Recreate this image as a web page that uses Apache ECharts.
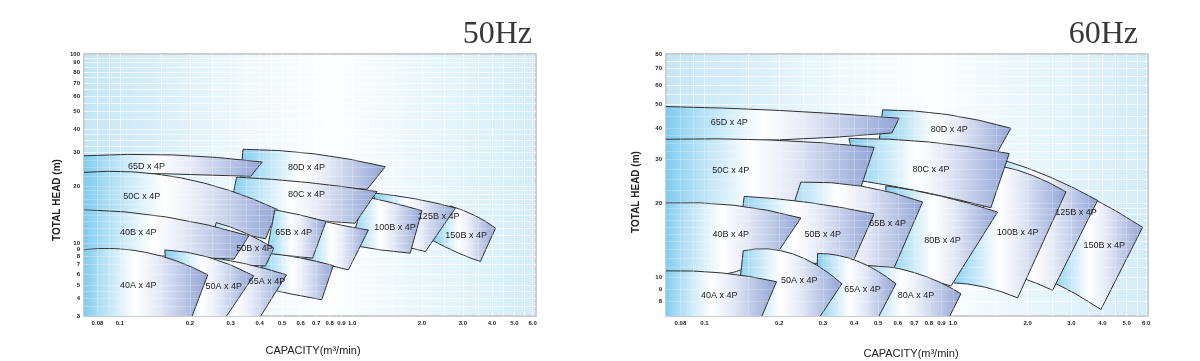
<!DOCTYPE html>
<html><head><meta charset="utf-8">
<script src="https://cdn.jsdelivr.net/npm/echarts@6/dist/echarts.min.js"></script>
<style>html,body{margin:0;padding:0;background:#fff}#c{width:1200px;height:361px}</style>
</head><body><div id="c"></div>
<script>
// ---- data (capacity m3/min, total head m) ----
const MODELS = ['150B x 4P','125B x 4P','100B x 4P','80D x 4P','80C x 4P','80B x 4P','80A x 4P','65D x 4P','50C x 4P','65B x 4P','50B x 4P','65A x 4P','40B x 4P','50A x 4P','40A x 4P'];

// 50Hz: upper curve [left, middle, right], lower curve [left, middle, right], label point
const TOP_50 = [
  [[2.65,15.7],[3.4,13.9],[4.15,11.96]],
  [[1.22,18.4],[1.87,17.1],[2.79,15.3]],
  [[1.14,17.5],[1.49,16.3],[2.0,14.8]],
  [[0.339,31.3],[0.687,29.6],[1.39,25.3]],
  [[0.318,22.3],[0.648,20.85],[1.28,18.7]],
  [[0.692,13.4],[0.887,12.45],[1.176,11.7]],
  [[0.409,8.63],[0.596,7.81],[0.83,6.88]],
  [[0.069,28.9],[0.1685,29.2],[0.41,26.8]],
  [[0.069,23.6],[0.1825,22.1],[0.478,15.0]],
  [[0.465,14.95],[0.596,14.06],[0.772,12.96]],
  [[0.26,12.8],[0.345,11.3],[0.46,9.17]],
  [[0.22,8.07],[0.34,7.14],[0.522,5.91]],
  [[0.069,15.0],[0.159,13.7],[0.359,10.9]],
  [[0.156,8.91],[0.242,7.88],[0.377,5.81]],
  [[0.069,8.91],[0.129,8.56],[0.239,5.91]]
];
const BOTTOM_50 = [
  [[2.22,10.3],[2.88,8.44],[3.57,7.36]],
  [[1.53,9.84],[1.78,9.2],[2.07,8.67]],
  [[0.98,9.68],[1.32,8.91],[1.78,8.44]],
  [[0.33,21.5],[0.617,20.3],[1.16,19.2]],
  [[0.297,14.6],[0.553,13.4],[1.03,12.7]],
  [[0.626,7.69],[0.788,6.96],[0.964,6.41]],
  [[0.409,4.77],[0.551,4.3],[0.74,3.92]],
  [[0.069,23.6],[0.16,23.2],[0.366,22.5]],
  [[0.069,14.4],[0.172,12.9],[0.424,10.5]],
  [[0.428,8.44],[0.54,8.07],[0.676,7.78]],
  [[0.232,7.32],[0.328,6.96],[0.424,6.85]],
  [[0.232,2.9],[0.31,2.9],[0.399,2.9]],
  [[0.069,8.48],[0.147,8.07],[0.31,7.65]],
  [[0.164,2.9],[0.22,2.9],[0.284,2.9]],
  [[0.069,2.9],[0.12,2.9],[0.203,2.9]]
];
const LABEL_AT_50 = [[3.1,10.9],[2.36,13.8],[1.53,12.1],[0.637,25.2],[0.637,17.95],null,null,[0.13,25.3],[0.124,17.6],[0.56,11.4],[0.38,9.17],[0.43,5.29],[0.12,11.3],[0.28,4.88],[0.12,4.93]];

// 60Hz
const TOP_60 = [
  [[3.594,21.1],[4.569,18.5],[5.803,15.97]],
  [[1.604,29.8],[2.48,25.4],[3.824,20.5]],
  [[1.56,28.2],[2.109,25.8],[2.851,22.2]],
  [[0.521,47.6],[0.945,45.6],[1.712,40.1]],
  [[0.3815,36.5],[0.8004,35.3],[1.685,31.7]],
  [[0.5373,23.5],[0.902,21.3],[1.513,18.4]],
  [[0.4196,11.44],[0.6985,10.48],[1.077,8.61]],
  [[0.069,49.1],[0.203,47.3],[0.608,44.05]],
  [[0.069,36.2],[0.185,35.95],[0.482,33.6]],
  [[0.2443,24.3],[0.4298,23.4],[0.755,20.2]],
  [[0.1445,21.3],[0.264,20.1],[0.482,18.1]],
  [[0.2853,12.52],[0.4103,11.69],[0.5896,9.45]],
  [[0.069,20.0],[0.1317,19.6],[0.2443,17.4]],
  [[0.1432,12.84],[0.2263,12.48],[0.3573,9.45]],
  [[0.069,10.65],[0.1172,10.45],[0.195,9.63]]
];
const BOTTOM_60 = [
  [[2.48,9.69],[3.128,8.59],[3.943,7.44]],
  [[1.358,10.85],[1.844,10.07],[2.52,8.89]],
  [[0.982,9.54],[1.338,9.17],[1.822,8.29]],
  [[0.504,35.0],[0.87,33.7],[1.513,32.2]],
  [[0.4183,24.7],[0.7715,22.1],[1.422,19.15]],
  [[0.5373,10.65],[0.7263,10.07],[0.982,9.25]],
  [[0.4263,6.9],[0.65,6.9],[0.965,6.9]],
  [[0.069,35.8],[0.2,36.0],[0.568,38.4]],
  [[0.069,19.03],[0.1733,19.57],[0.4263,23.2]],
  [[0.1938,11.91],[0.3349,11.47],[0.5804,10.98]],
  [[0.1338,11.47],[0.229,11.47],[0.392,11.34]],
  [[0.281,6.9],[0.38,6.9],[0.5,6.9]],
  [[0.069,10.35],[0.1177,10.25],[0.197,12.64]],
  [[0.1338,6.9],[0.2,6.9],[0.29,6.9]],
  [[0.069,6.9],[0.12,6.9],[0.1693,6.9]]
];
const LABEL_AT_60 = [[4.066,13.45],[3.128,18.4],[1.822,15.2],[0.966,39.7],[0.8155,27.3],[0.909,14.1],[0.7097,8.43],[0.1257,42.3],[0.1277,27.2],[0.546,16.5],[0.299,14.9],[0.4329,8.97],[0.1277,14.9],[0.2405,9.76],[0.1146,8.5]];

const X_TICKS = [0.08,0.1,0.2,0.3,0.4,0.5,0.6,0.7,0.8,0.9,1,2,3,4,5,6];
const X_TICK_LABELS = ['0.08','0.1','0.2','0.3','0.4','0.5','0.6','0.7','0.8','0.9','1.0','2.0','3.0','4.0','5.0','6.0'];
const Y_TICKS_50 = [3,4,5,6,7,8,9,10,20,30,40,50,60,70,80,90,100];
const Y_TICKS_60 = [8,9,10,20,30,40,50,60,70,80];
const GRID_X = [0.08,0.09,0.1,0.15,0.2,0.25,0.3,0.35,0.4,0.45,0.5,0.6,0.7,0.8,0.9,1,1.5,2,2.5,3,3.5,4,4.5,5,5.5,6];
const GRID_Y_50 = [3.5,4,4.5,5,6,7,8,9,10,11,12,13,14,15,16,17,18,19,20,22.5,25,27.5,30,32.5,35,37.5,40,45,50,55,60,65,70,75,80,85,90,95];
const GRID_Y_60 = [8,9,10,11,12,13,14,15,16,17,18,19,20,22.5,25,27.5,30,32.5,35,37.5,40,45,50,55,60,65,70,75];

// ---- scales: log capacity; 50Hz head axis is log with a compressed decade below 10 m ----
const fx = q => Math.log10(q);
const fy50 = h => { const l = Math.log10(h) - 1; return l >= 0 ? l * 189 / 140 : l; };
const fy60 = h => Math.log10(h);

function fmt(ticks, labels, f) {
  return v => { let best = -1, bd = Infinity;
    ticks.forEach((t, k) => { const d = Math.abs(f(t) - v); if (d < bd) { bd = d; best = k; } });
    return bd < 1e-6 ? labels[best] : ''; };
}
const lblStyle = {fontSize: 6, fontWeight: 'bold', fontFamily: '"Liberation Sans", Arial, sans-serif', color: '#222'};
const cardFill = () => ({type: 'linear', x: 0, y: 0, x2: 1, y2: 0, colorStops: [
  {offset: 0, color: '#7ccaee'}, {offset: 0.12, color: '#a8dcf4'}, {offset: 0.42, color: '#ffffff'},
  {offset: 0.6, color: '#e5eaf6'}, {offset: 1, color: '#91a4d5'}]});
const bgFill = {type: 'linear', x: 0, y: 0, x2: 1, y2: 0, colorStops: [
  {offset: 0, color: '#c5e6f7'}, {offset: 0.35, color: '#eef8fd'}, {offset: 0.55, color: '#fcfeff'}, {offset: 1, color: '#d2edf9'}]};

function cards(xi, fy, TOP, BOTTOM) {
  return {
    type: 'custom', xAxisIndex: xi, yAxisIndex: xi, clip: true, z: 2, silent: true,
    data: MODELS.map((m, i) => ({name: m, value: [fx(TOP[i][1][0]), fy(TOP[i][1][1])]})),
    renderItem: (params, api) => {
      const i = params.dataIndex;
      const P = p => api.coord([fx(p[0]), fy(p[1])]);
      const t = TOP[i].map(P), b = BOTTOM[i].map(P);
      const ctl = (a, m, z) => [2 * m[0] - (a[0] + z[0]) / 2, 2 * m[1] - (a[1] + z[1]) / 2];
      const ct = ctl(t[0], t[1], t[2]), cb = ctl(b[0], b[1], b[2]);
      const d = 'M' + t[0][0] + ',' + t[0][1] + ' Q' + ct[0] + ',' + ct[1] + ' ' + t[2][0] + ',' + t[2][1] +
        ' L' + b[2][0] + ',' + b[2][1] + ' Q' + cb[0] + ',' + cb[1] + ' ' + b[0][0] + ',' + b[0][1] + ' Z';
      return {type: 'path', shape: {pathData: d}, style: {fill: cardFill(), stroke: '#303030', lineWidth: 1}};
    }
  };
}
function labels(xi, fy, LABELS) {
  return {
    type: 'custom', xAxisIndex: xi, yAxisIndex: xi, clip: true, z: 8, silent: true,
    data: MODELS.map((m, i) => ({name: m, value: LABELS[i] ? [fx(LABELS[i][0]), fy(LABELS[i][1])] : [NaN, NaN]})),
    renderItem: (params, api) => {
      const i = params.dataIndex;
      if (!LABELS[i]) return null;
      const p = api.coord([fx(LABELS[i][0]), fy(LABELS[i][1])]);
      return {type: 'text', x: p[0], y: p[1], style: {text: MODELS[i], fill: '#1c1c1c',
        font: '9px "Liberation Sans", Arial, sans-serif', align: 'center', verticalAlign: 'middle'}};
    }
  };
}

function mainX(gi, max) {
  return {gridIndex: gi, type: 'value', min: fx(0.07), max: fx(max), axisLine: {show: false}, axisTick: {show: false},
    splitLine: {show: false},
    axisLabel: Object.assign({customValues: X_TICKS.map(fx), formatter: fmt(X_TICKS, X_TICK_LABELS, fx), margin: 4}, lblStyle)};
}
function mainY(gi, f, ticks, min, max) {
  return {gridIndex: gi, type: 'value', min: f(min), max: f(max), axisLine: {show: false}, axisTick: {show: false},
    splitLine: {show: false},
    axisLabel: Object.assign({customValues: ticks.map(f), formatter: fmt(ticks, ticks.map(String), f), margin: 4}, lblStyle)};
}
function gridX(gi, max, z, alpha) {
  return {gridIndex: gi, type: 'value', position: 'top', z: z, min: fx(0.07), max: fx(max), axisLine: {show: false},
    axisTick: {show: false, customValues: GRID_X.map(fx)}, axisLabel: {show: false, customValues: GRID_X.map(fx)},
    splitLine: {show: true, lineStyle: {color: 'rgba(255,255,255,' + alpha + ')', width: 1}}};
}
function gridY(gi, f, vals, min, max, z, alpha) {
  return {gridIndex: gi, type: 'value', position: 'right', z: z, min: f(min), max: f(max), axisLine: {show: false},
    axisTick: {show: false, customValues: vals.map(f)}, axisLabel: {show: false, customValues: vals.map(f)},
    splitLine: {show: true, lineStyle: {color: 'rgba(255,255,255,' + alpha + ')', width: 1}}};
}

const chart = echarts.init(document.getElementById('c'), null, {renderer: 'canvas'});
chart.setOption({
  animation: false,
  grid: [
    {left: 84, top: 54, width: 452, height: 262, show: true, backgroundColor: bgFill, borderColor: '#cdcdcd', borderWidth: 2},
    {left: 666, top: 54, width: 482, height: 262, show: true, backgroundColor: bgFill, borderColor: '#cdcdcd', borderWidth: 2}
  ],
  xAxis: [mainX(0, 6.2), mainX(1, 6.1), gridX(0, 6.2, 1, 0.6), gridX(1, 6.1, 1, 0.6), gridX(0, 6.2, 5, 0.22), gridX(1, 6.1, 5, 0.22)],
  yAxis: [mainY(0, fy50, Y_TICKS_50, 3, 100), mainY(1, fy60, Y_TICKS_60, 7, 80),
          gridY(0, fy50, GRID_Y_50, 3, 100, 1, 0.6), gridY(1, fy60, GRID_Y_60, 7, 80, 1, 0.6),
          gridY(0, fy50, GRID_Y_50, 3, 100, 5, 0.22), gridY(1, fy60, GRID_Y_60, 7, 80, 5, 0.22)],
  series: [cards(0, fy50, TOP_50, BOTTOM_50), cards(1, fy60, TOP_60, BOTTOM_60),
           labels(0, fy50, LABEL_AT_50), labels(1, fy60, LABEL_AT_60)],
  graphic: [
    {type: 'text', x: 532, y: 35, style: {text: '50Hz', font: '32px "Liberation Serif", serif', fill: '#383838', align: 'right', verticalAlign: 'middle'}},
    {type: 'text', x: 1138, y: 35, style: {text: '60Hz', font: '32px "Liberation Serif", serif', fill: '#383838', align: 'right', verticalAlign: 'middle'}},
    {type: 'text', x: 57, y: 200, rotation: Math.PI / 2, style: {text: 'TOTAL HEAD (m)', font: 'bold 10px "Liberation Sans", Arial, sans-serif', fill: '#222', align: 'center', verticalAlign: 'middle'}},
    {type: 'text', x: 636, y: 192, rotation: Math.PI / 2, style: {text: 'TOTAL HEAD (m)', font: 'bold 10px "Liberation Sans", Arial, sans-serif', fill: '#222', align: 'center', verticalAlign: 'middle'}},
    {type: 'text', x: 313, y: 351, style: {text: 'CAPACITY(m³/min)', font: '11px "Liberation Sans", Arial, sans-serif', fill: '#222', align: 'center', verticalAlign: 'middle'}},
    {type: 'text', x: 911, y: 354, style: {text: 'CAPACITY(m³/min)', font: '11px "Liberation Sans", Arial, sans-serif', fill: '#222', align: 'center', verticalAlign: 'middle'}}
  ]
});
</script></body></html>
